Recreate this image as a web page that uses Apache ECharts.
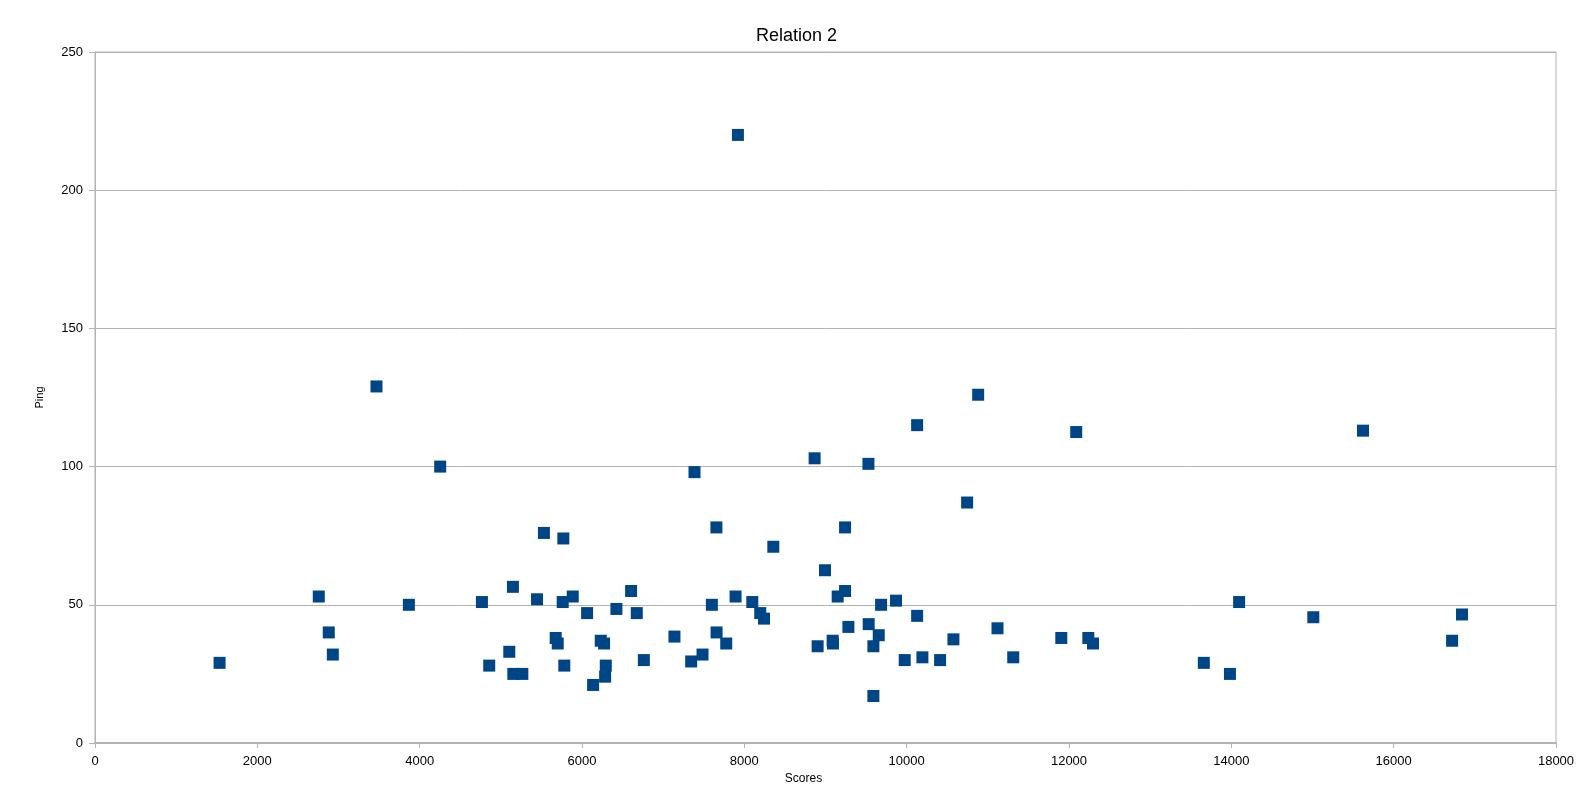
<!DOCTYPE html>
<html>
<head>
<meta charset="utf-8">
<script src="https://cdn.jsdelivr.net/npm/echarts@6/dist/echarts.min.js"></script>
<style>
html,body{margin:0;padding:0;background:#fff;}
#chart{width:1593px;height:797px;}
</style>
</head>
<body>
<div id="chart"></div>
<script>
const titleText = "Relation 2";
const xName = "Scores";
const yName = "Ping";
const scores = [1535,2757,2880,2930,3468,3867,4253,4767,4857,5104,5149,5154,5265,5446,5531,5676,5701,5762,5770,5782,5886,6063,6137,6231,6272,6293,6285,6424,6605,6675,6762,7139,7345,7386,7485,7600,7656,7658,7777,7892,7921,8098,8196,8242,8357,8866,8903,8994,9088,9092,9150,9241,9241,9282,9529,9532,9590,9590,9656,9685,9869,9976,10129,10129,10194,10412,10576,10745,10881,11119,11313,11905,12089,12238,12296,13661,13983,14096,15010,15622,16720,16842];
const pings = [29,53,40,32,129,50,100,51,28,33,56.5,25,25,52,76,38,36,51,74,28,53,47,21,37,36,28,24,48.5,55,47,30,38.5,29.5,98,32,50,78,40,36,53,220,51,47,45,71,103,35,62.5,37,36,53,78,55,42,101,43,35,17,39,50,51.5,30,46,115,31,30,37.5,87,126,41.5,31,38,112.5,38,36,29,25,51,45.5,113,37,46.5];

const points = scores.map((s, i) => [s, pings[i]]);
const chart = echarts.init(document.getElementById('chart'));
const font = "'Liberation Sans', Arial, sans-serif";
chart.setOption({
  animation: false,
  backgroundColor: '#ffffff',
  title: {
    text: titleText,
    left: 'center',
    top: 22,
    textStyle: {fontFamily: font, fontSize: 18, fontWeight: 'normal', color: '#000'}
  },
  grid: {
    left: 95, right: 37, top: 52, bottom: 54,
    show: true, borderColor: '#b3b3b3', borderWidth: 1, backgroundColor: 'transparent'
  },
  xAxis: {
    type: 'value',
    min: 0, max: 18000, interval: 2000,
    name: xName,
    nameLocation: 'middle',
    nameGap: 30,
    nameTextStyle: {fontFamily: font, fontSize: 12, color: '#000', padding: [0, 44, 0, 0]},
    axisLine: {show: true, lineStyle: {color: '#b3b3b3', width: 2}},
    axisTick: {show: true, length: 5, lineStyle: {color: '#b3b3b3'}},
    axisLabel: {fontFamily: font, fontSize: 13, color: '#000', margin: 12, formatter: v => String(v)},
    splitLine: {show: false}
  },
  yAxis: {
    type: 'value',
    min: 0, max: 250, interval: 50,
    name: yName,
    nameLocation: 'middle',
    nameGap: 50,
    nameRotate: 90,
    nameTextStyle: {fontFamily: font, fontSize: 11, color: '#000'},
    axisLine: {show: true, lineStyle: {color: '#b3b3b3', width: 1}},
    axisTick: {show: true, length: 6, lineStyle: {color: '#b3b3b3'}},
    axisLabel: {fontFamily: font, fontSize: 13, color: '#000', margin: 12, formatter: v => String(v)},
    splitLine: {show: true, lineStyle: {color: '#b3b3b3', width: 1}}
  },
  series: [{
    type: 'scatter',
    data: points,
    symbol: 'rect',
    symbolSize: 12,
    itemStyle: {color: '#004586', opacity: 1}
  }]
});
</script>
</body>
</html>
